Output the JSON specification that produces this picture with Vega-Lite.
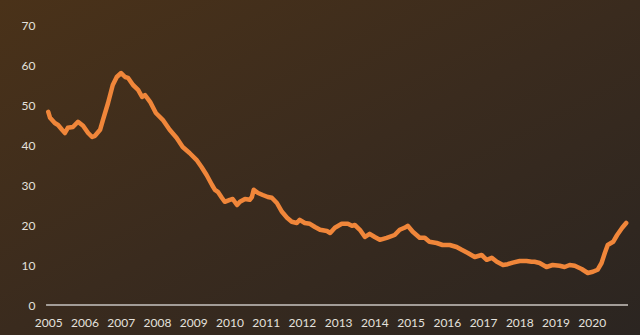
{
  "$schema": "https://vega.github.io/schema/vega-lite/v6.json",
  "width": 640,
  "height": 335,
  "padding": 0,
  "autosize": {"type": "none"},
  "background": "#3a2c1f",
  "config": {
    "view": {
      "stroke": null,
      "fill": {
        "gradient": "linear",
        "x1": 0, "y1": 0, "x2": 1, "y2": 1,
        "stops": [
          {"offset": 0, "color": "#4a3219"},
          {"offset": 0.5, "color": "#3a2b1e"},
          {"offset": 1, "color": "#2b2521"}
        ]
      }
    },
    "axis": {
      "labelFont": "Lato",
      "labelFontSize": 12,
      "labelColor": "#e4e1dd",
      "grid": false,
      "ticks": false,
      "domain": false,
      "title": null
    }
  },
  "data": {
    "values": [
      {"t": 2005.00, "v": 48.3},
      {"t": 2005.05, "v": 46.8},
      {"t": 2005.18, "v": 45.5},
      {"t": 2005.27, "v": 45.0},
      {"t": 2005.38, "v": 43.8},
      {"t": 2005.46, "v": 43.0},
      {"t": 2005.54, "v": 44.3},
      {"t": 2005.68, "v": 44.5},
      {"t": 2005.82, "v": 45.8},
      {"t": 2005.96, "v": 44.8},
      {"t": 2006.10, "v": 43.0},
      {"t": 2006.21, "v": 42.0},
      {"t": 2006.29, "v": 42.3},
      {"t": 2006.43, "v": 43.8},
      {"t": 2006.51, "v": 46.3},
      {"t": 2006.65, "v": 50.5},
      {"t": 2006.78, "v": 55.0},
      {"t": 2006.89, "v": 57.0},
      {"t": 2007.01, "v": 58.0},
      {"t": 2007.12, "v": 57.0},
      {"t": 2007.20, "v": 56.8},
      {"t": 2007.34, "v": 55.0},
      {"t": 2007.48, "v": 53.8},
      {"t": 2007.59, "v": 52.0},
      {"t": 2007.67, "v": 52.5},
      {"t": 2007.81, "v": 50.8},
      {"t": 2007.97, "v": 48.0},
      {"t": 2008.16, "v": 46.3},
      {"t": 2008.35, "v": 43.8},
      {"t": 2008.54, "v": 41.8},
      {"t": 2008.71, "v": 39.5},
      {"t": 2008.90, "v": 38.0},
      {"t": 2009.09, "v": 36.3},
      {"t": 2009.23, "v": 34.5},
      {"t": 2009.37, "v": 32.5},
      {"t": 2009.52, "v": 30.0},
      {"t": 2009.60, "v": 28.8},
      {"t": 2009.68, "v": 28.3},
      {"t": 2009.79, "v": 26.8},
      {"t": 2009.87, "v": 25.8},
      {"t": 2010.01, "v": 26.3},
      {"t": 2010.09, "v": 26.5},
      {"t": 2010.21, "v": 25.0},
      {"t": 2010.29, "v": 25.8},
      {"t": 2010.43, "v": 26.5},
      {"t": 2010.56, "v": 26.3},
      {"t": 2010.62, "v": 27.0},
      {"t": 2010.67, "v": 28.8},
      {"t": 2010.79, "v": 28.0},
      {"t": 2010.92, "v": 27.5},
      {"t": 2011.06, "v": 27.0},
      {"t": 2011.17, "v": 26.8},
      {"t": 2011.31, "v": 25.5},
      {"t": 2011.45, "v": 23.3},
      {"t": 2011.59, "v": 21.8},
      {"t": 2011.72, "v": 20.8},
      {"t": 2011.86, "v": 20.5},
      {"t": 2011.94, "v": 21.3},
      {"t": 2012.08, "v": 20.5},
      {"t": 2012.22, "v": 20.3},
      {"t": 2012.36, "v": 19.5},
      {"t": 2012.50, "v": 18.8},
      {"t": 2012.69, "v": 18.5},
      {"t": 2012.78, "v": 18.0},
      {"t": 2012.91, "v": 19.3},
      {"t": 2013.10, "v": 20.3},
      {"t": 2013.27, "v": 20.3},
      {"t": 2013.38, "v": 19.8},
      {"t": 2013.46, "v": 20.0},
      {"t": 2013.60, "v": 18.8},
      {"t": 2013.74, "v": 17.0},
      {"t": 2013.87, "v": 17.8},
      {"t": 2014.01, "v": 17.0},
      {"t": 2014.15, "v": 16.3},
      {"t": 2014.34, "v": 16.8},
      {"t": 2014.56, "v": 17.5},
      {"t": 2014.70, "v": 18.8},
      {"t": 2014.83, "v": 19.3},
      {"t": 2014.92, "v": 19.8},
      {"t": 2015.06, "v": 18.3},
      {"t": 2015.25, "v": 16.8},
      {"t": 2015.39, "v": 16.8},
      {"t": 2015.52, "v": 15.8},
      {"t": 2015.72, "v": 15.5},
      {"t": 2015.88, "v": 15.0},
      {"t": 2016.08, "v": 15.0},
      {"t": 2016.27, "v": 14.5},
      {"t": 2016.41, "v": 13.8},
      {"t": 2016.58, "v": 13.0},
      {"t": 2016.77, "v": 12.0},
      {"t": 2016.96, "v": 12.5},
      {"t": 2017.10, "v": 11.3},
      {"t": 2017.24, "v": 11.8},
      {"t": 2017.38, "v": 10.8},
      {"t": 2017.55, "v": 10.0},
      {"t": 2017.68, "v": 10.2},
      {"t": 2017.82, "v": 10.6},
      {"t": 2018.01, "v": 11.0},
      {"t": 2018.20, "v": 11.0},
      {"t": 2018.34, "v": 10.8},
      {"t": 2018.42, "v": 10.8},
      {"t": 2018.56, "v": 10.5},
      {"t": 2018.75, "v": 9.5},
      {"t": 2018.92, "v": 10.0},
      {"t": 2019.11, "v": 9.8},
      {"t": 2019.25, "v": 9.5},
      {"t": 2019.39, "v": 10.0},
      {"t": 2019.53, "v": 9.8},
      {"t": 2019.72, "v": 9.0},
      {"t": 2019.89, "v": 8.0},
      {"t": 2020.03, "v": 8.3},
      {"t": 2020.16, "v": 8.8},
      {"t": 2020.27, "v": 10.5},
      {"t": 2020.36, "v": 13.0},
      {"t": 2020.44, "v": 15.0},
      {"t": 2020.59, "v": 15.8},
      {"t": 2020.70, "v": 17.5},
      {"t": 2020.84, "v": 19.3},
      {"t": 2020.95, "v": 20.5}
    ]
  },
  "layer": [
    {
      "mark": {"type": "rule", "color": "#a39e98", "strokeWidth": 1.5},
      "encoding": {
        "x": {"datum": 2004.96, "type": "quantitative"},
        "x2": {"datum": 2021.0},
        "y": {"datum": 0, "type": "quantitative"}
      }
    },
    {
      "mark": {"type": "line", "color": "#f0863a", "strokeWidth": 4.5, "strokeJoin": "round", "strokeCap": "round"},
      "encoding": {
        "x": {
          "field": "t",
          "type": "quantitative",
          "scale": {"domain": [2003.668, 2021.331], "nice": false, "zero": false},
          "axis": {
            "values": [2005, 2006, 2007, 2008, 2009, 2010, 2011, 2012, 2013, 2014, 2015, 2016, 2017, 2018, 2019, 2020],
            "format": "d",
            "offset": -18,
            "labelPadding": 0,
            "labelBaseline": "top",
            "labelFlush": false,
            "labelOverlap": false
          }
        },
        "y": {
          "field": "v",
          "type": "quantitative",
          "scale": {"domain": [-7.5, 76.25], "nice": false, "zero": false},
          "axis": {
            "values": [0, 10, 20, 30, 40, 50, 60, 70],
            "offset": -35,
            "labelPadding": 0,
            "labelAlign": "right",
            "labelFlush": false,
            "labelOverlap": false
          }
        }
      }
    }
  ]
}
